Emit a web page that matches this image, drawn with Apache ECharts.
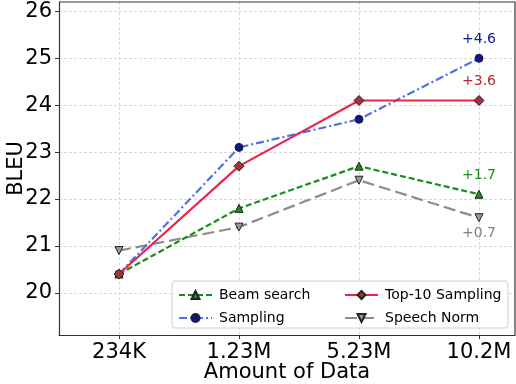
<!DOCTYPE html>
<html>
<head>
<meta charset="utf-8">
<script src="https://cdn.jsdelivr.net/npm/echarts@6/dist/echarts.min.js"></script>
<style>
  html, body { margin: 0; padding: 0; background: #fff; }
  #chart { width: 516px; height: 384px; }
</style>
</head>
<body>
<div id="chart"></div>
<script>
// Data
const categories = ["234K", "1.23M", "5.23M", "10.2M"];
const yTicks = [20, 21, 22, 23, 24, 25, 26];
const beamSearch = [20.4, 21.8, 22.7, 22.1];
const sampling = [20.4, 23.1, 23.7, 25.0];
const top10Sampling = [20.4, 22.7, 24.1, 24.1];
const speechNorm = [20.9, 21.4, 22.4, 21.6];
const gains = { beam: "+1.7", sampling: "+4.6", top10: "+3.6", speech: "+0.7" };

const chartDom = document.getElementById("chart");
const myChart = echarts.init(chartDom, null, { renderer: "canvas" });

const font = "DejaVu Sans";

// turn a list of values into [x, y] pairs, with a gain label on the last point
function toPoints(values, gain, color, pos) {
  return values.map((v, i) => {
    const item = { value: [i, v] };
    if (i === values.length - 1) {
      item.label = {
        show: true,
        formatter: gain,
        position: pos,
        distance: pos === "top" ? 7 : 4,
        color: color,
        fontSize: 14,
        fontFamily: font,
      };
    }
    return item;
  });
}

function makeSeries(name, values, opts) {
  return {
    name: name,
    type: "line",
    data: toPoints(values, opts.gain, opts.labelColor, opts.labelPos),
    symbol: opts.symbol,
    symbolSize: opts.symbolSize,
    symbolRotate: opts.rotate || 0,
    itemStyle: { color: opts.fill, borderColor: "#222", borderWidth: 1 },
    lineStyle: { color: opts.color, width: 2.2, type: opts.dash },
    color: opts.color,
    z: opts.z,
  };
}

const legendText = { fontSize: 14, fontFamily: font, color: "#000", padding: [0, 0, 0, 2] };

const option = {
  animation: false,
  grid: { left: 59, top: 2, right: 1, bottom: 49, containLabel: false, outerBoundsMode: "none" },
  xAxis: {
    type: "value",
    min: -0.5,
    max: 3.3,
    name: "Amount of Data",
    nameLocation: "middle",
    nameGap: 27,
    nameMoveOverlap: false,
    nameTextStyle: { fontSize: 21, fontFamily: font, color: "#000" },
    axisLine: { show: true, onZero: false, lineStyle: { color: "#333", width: 1.2 } },
    axisTick: { show: true, length: 4, customValues: [0, 1, 2, 3], lineStyle: { color: "#333" } },
    axisLabel: {
      customValues: [0, 1, 2, 3],
      formatter: (v) => categories[v],
      fontSize: 21,
      fontFamily: font,
      color: "#000",
      margin: 7,
    },
    splitLine: { show: true, lineStyle: { color: "#cfcfcf", type: [3, 2], width: 0.8 } },
  },
  yAxis: {
    type: "value",
    min: 19.1,
    max: 26.2,
    name: "BLEU",
    nameLocation: "middle",
    nameGap: 32,
    nameMoveOverlap: false,
    nameTextStyle: { fontSize: 21, fontFamily: font, color: "#000" },
    axisLine: { show: true, onZero: false, lineStyle: { color: "#333", width: 1.2 } },
    axisTick: { show: true, length: 4, customValues: yTicks, lineStyle: { color: "#333" } },
    axisLabel: {
      customValues: yTicks,
      fontSize: 21,
      fontFamily: font,
      color: "#000",
      margin: 7,
    },
    splitLine: { show: true, lineStyle: { color: "#cfcfcf", type: [3, 2], width: 0.8 } },
  },
  legend: [
    {
      data: ["Beam search", "Sampling"],
      orient: "vertical",
      left: 173,
      top: 283,
      itemWidth: 33,
      itemHeight: 10,
      itemGap: 9,
      z: 60,
      textStyle: legendText,
    },
    {
      data: ["Top-10 Sampling", "Speech Norm"],
      orient: "vertical",
      left: 339,
      top: 283,
      itemWidth: 33,
      itemHeight: 10,
      itemGap: 9,
      z: 60,
      textStyle: legendText,
    },
  ],
  graphic: [
    {
      type: "rect",
      shape: { x: 172, y: 281, width: 336, height: 47, r: 3 },
      style: { fill: "rgba(255,255,255,0.8)", stroke: "#d0d0d0", lineWidth: 1 },
      z: 50,
      silent: true,
    },
    {
      // top and right frame of the plot
      type: "polyline",
      shape: { points: [[59, 2], [515, 2], [515, 335]] },
      style: { stroke: "#333", lineWidth: 1.2, fill: null },
      z: 10,
      silent: true,
    },
  ],
  series: [
    makeSeries("Beam search", beamSearch, {
      color: "#1a8c1a", fill: "#1a8c1a", dash: [6, 3], symbol: "triangle", symbolSize: 8,
      gain: gains.beam, labelColor: "#1a8c1a", labelPos: "top", z: 3,
    }),
    makeSeries("Sampling", sampling, {
      color: "#4f72e3", fill: "#0a1496", dash: [8, 3, 2, 3], symbol: "circle", symbolSize: 8,
      gain: gains.sampling, labelColor: "#0a1496", labelPos: "top", z: 4,
    }),
    makeSeries("Top-10 Sampling", top10Sampling, {
      color: "#e8264c", fill: "#a8323a", dash: "solid", symbol: "diamond", symbolSize: 10,
      gain: gains.top10, labelColor: "#b8282e", labelPos: "top", z: 5,
    }),
    makeSeries("Speech Norm", speechNorm, {
      color: "#8c8c8c", fill: "#9a9a9a", dash: [12, 5], symbol: "triangle", symbolSize: 8, rotate: 180,
      gain: gains.speech, labelColor: "#808080", labelPos: "bottom", z: 2,
    }),
  ],
};

myChart.setOption(option);

window.addEventListener("resize", () => {
  myChart.resize();
});
</script>
</body>
</html>
